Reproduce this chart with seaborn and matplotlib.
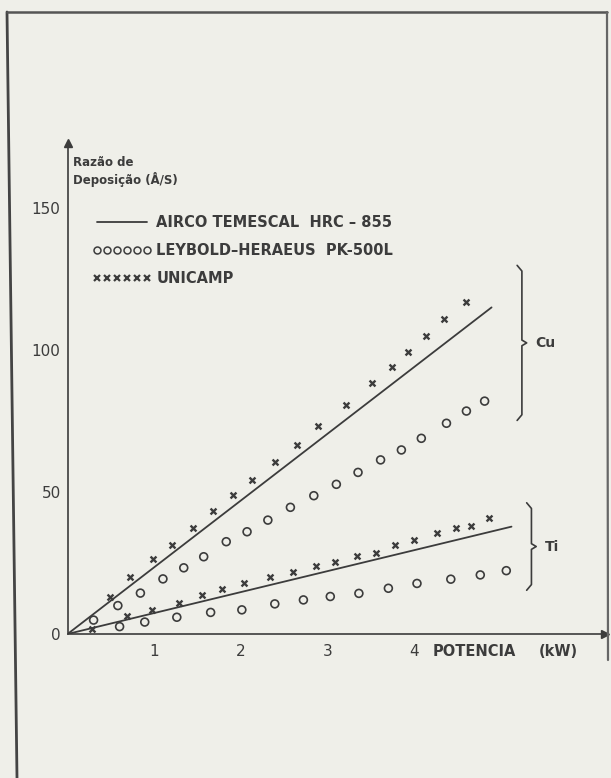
import numpy as np
import pandas as pd
import matplotlib
matplotlib.use("Agg")
import matplotlib.pyplot as plt
import seaborn as sns
from matplotlib.lines import Line2D

# ---------------- data ----------------
# Cu, UNICAMP (x markers)
cu_unicamp_x = [0.49, 0.72, 0.98, 1.21, 1.45, 1.68, 1.91, 2.13, 2.39, 2.65, 2.89,
                3.21, 3.51, 3.74, 3.93, 4.13, 4.34, 4.60]
cu_unicamp_y = [13.1, 20.0, 26.4, 31.3, 37.4, 43.3, 48.9, 54.2, 60.7, 66.7, 73.3,
                80.6, 88.5, 94.1, 99.4, 105.0, 110.8, 117.0]
# Cu, LEYBOLD-HERAEUS (circles)
cu_leybold_x = [0.30, 0.58, 0.84, 1.10, 1.34, 1.57, 1.83, 2.07, 2.31, 2.57, 2.84,
                3.10, 3.35, 3.61, 3.85, 4.08, 4.37, 4.60, 4.81]
cu_leybold_y = [4.9, 10.0, 14.4, 19.4, 23.3, 27.2, 32.5, 36.0, 40.1, 44.6, 48.7,
                52.7, 56.9, 61.3, 64.8, 68.9, 74.2, 78.5, 82.0]
# Ti, UNICAMP (x markers)
ti_unicamp_x = [0.28, 0.68, 0.97, 1.28, 1.55, 1.78, 2.04, 2.33, 2.60, 2.87, 3.08,
                3.34, 3.56, 3.78, 3.99, 4.26, 4.48, 4.65, 4.86]
ti_unicamp_y = [1.6, 6.5, 8.6, 10.8, 13.7, 15.7, 17.9, 20.0, 21.9, 23.9, 25.5,
                27.5, 28.6, 31.3, 33.1, 35.7, 37.2, 38.0, 40.7]
# Ti, LEYBOLD-HERAEUS (circles)
ti_leybold_x = [0.60, 0.89, 1.26, 1.65, 2.01, 2.39, 2.72, 3.03, 3.36, 3.70, 4.03,
                4.42, 4.76, 5.06]
ti_leybold_y = [2.6, 4.2, 5.9, 7.6, 8.5, 10.6, 12.0, 13.2, 14.3, 16.1, 17.8,
                19.3, 20.8, 22.3]
# AIRCO TEMESCAL (solid lines)
cu_airco_x = [0.0, 4.89]
cu_airco_y = [0.0, 115.0]
ti_airco_x = [0.0, 5.12]
ti_airco_y = [0.0, 37.8]

x_ticks = [1, 2, 3, 4]
y_ticks = [0, 50, 100, 150]
legend_labels = ["AIRCO TEMESCAL  HRC – 855", "LEYBOLD–HERAEUS  PK-500L", "UNICAMP"]
cu_bracket = [76.0, 129.0]   # y-range of the Cu brace
ti_bracket = [16.2, 45.4]    # y-range of the Ti brace

# ---------------- style ----------------
BG = "#EFEFE9"
INK = "#3c3c3c"

sns.set_theme(style="white")
plt.rcParams['font.family'] = ['DejaVu Sans']

fig = plt.figure(figsize=(6.11, 7.78), dpi=100, facecolor=BG)
ax = fig.add_axes([0.1106, 0.1851, 0.8798, 0.6315])
ax.set_facecolor("none")

# lines
line_df = pd.concat([
    pd.DataFrame({"p": cu_airco_x, "r": cu_airco_y, "g": "Cu"}),
    pd.DataFrame({"p": ti_airco_x, "r": ti_airco_y, "g": "Ti"}),
])
for g, sub in line_df.groupby("g"):
    sns.lineplot(data=sub, x="p", y="r", ax=ax, color=INK, linewidth=1.3,
                 legend=False, estimator=None, sort=False)

# points
x_df = pd.DataFrame({"p": cu_unicamp_x + ti_unicamp_x,
                     "r": cu_unicamp_y + ti_unicamp_y})
o_df = pd.DataFrame({"p": cu_leybold_x + ti_leybold_x,
                     "r": cu_leybold_y + ti_leybold_y})
sns.scatterplot(data=x_df, x="p", y="r", ax=ax, marker="x", s=18,
                color=INK, linewidth=1.7, legend=False, zorder=3)
sns.scatterplot(data=o_df, x="p", y="r", ax=ax, marker="o", s=32,
                facecolor="none", edgecolor=INK, linewidth=1.2, legend=False, zorder=3)

ax.set_xlim(0, 6.2)
ax.set_ylim(0, 173)
ax.set_xlabel("")
ax.set_ylabel("")

for s in ["top", "right"]:
    ax.spines[s].set_visible(False)
for s in ["left", "bottom"]:
    ax.spines[s].set_color(INK)
    ax.spines[s].set_linewidth(1.2)

ax.set_xticks(x_ticks)
ax.set_yticks(y_ticks)
ax.set_xticklabels([str(t) for t in x_ticks])
ax.set_yticklabels([str(t) for t in y_ticks])
ax.tick_params(axis="both", direction="in", length=8, width=1.1, color=INK,
               labelcolor=INK, labelsize=11, pad=5)
ax.tick_params(axis="x", pad=7)

# axis arrows
ax.plot(1, 0, ">", color=INK, ms=6, transform=ax.get_yaxis_transform(), clip_on=False)
ax.plot(0, 1, "^", color=INK, ms=6, transform=ax.get_xaxis_transform(), clip_on=False)

# axis titles
ax.text(4.21, -3.5, "POTENCIA", ha="left", va="top", fontsize=10.5,
        color=INK, fontweight="semibold")
ax.text(5.43, -3.5, "(kW)", ha="left", va="top", fontsize=10.5,
        color=INK, fontweight="semibold")
ax.text(0.01, 0.959, "Razão de", transform=ax.transAxes, ha="left", va="center",
        fontsize=8.5, color=INK, fontweight="bold")
ax.text(0.01, 0.925, "Deposição (Å/S)", transform=ax.transAxes, ha="left", va="center",
        fontsize=8.5, color=INK, fontweight="bold")

# legend
handles = [
    Line2D([], [], color=INK, lw=1.3),
    Line2D([], [], marker="o", ls="none", mfc="none", mec=INK, ms=5, mew=1.1),
    Line2D([], [], marker="x", ls="none", color=INK, ms=4.5, mew=1.6),
]
leg = ax.legend(handles, legend_labels, loc="upper left",
                bbox_to_anchor=(0.047, 0.852), frameon=False, numpoints=6,
                handlelength=4.0, handletextpad=0.35, labelspacing=0.88,
                borderpad=0, borderaxespad=0,
                prop={"size": 10.5, "weight": "semibold"})
for t in leg.get_texts():
    t.set_color(INK)

# braces
def brace(xc, lo, hi, label):
    mid = (lo + hi) / 2
    dx = 0.055
    ax.plot([xc - dx, xc, xc, xc + dx, xc, xc, xc - dx],
            [lo - 0.8, lo + 1.2, mid - 1.0, mid, mid + 1.0, hi - 1.2, hi + 0.8],
            color=INK, lw=1.2, clip_on=False)
    ax.text(xc + 0.15, mid, label, ha="left", va="center", fontsize=10,
            color=INK, fontweight="semibold")

brace(5.24, cu_bracket[0], cu_bracket[1], "Cu")
brace(5.35, ti_bracket[0], ti_bracket[1], "Ti")

# scanned frame
fig.add_artist(Line2D([7 / 611, 17 / 611], [1 - 12 / 778, 0.0],
                      transform=fig.transFigure, color="#444", lw=2))
fig.add_artist(Line2D([7 / 611, 607 / 611], [1 - 12 / 778, 1 - 12 / 778],
                      transform=fig.transFigure, color="#555", lw=1.8))
fig.add_artist(Line2D([607 / 611, 608 / 611], [1 - 12 / 778, 1 - 660 / 778],
                      transform=fig.transFigure, color="#666", lw=1.6))

fig.savefig("out.png", dpi=100, facecolor=BG)
